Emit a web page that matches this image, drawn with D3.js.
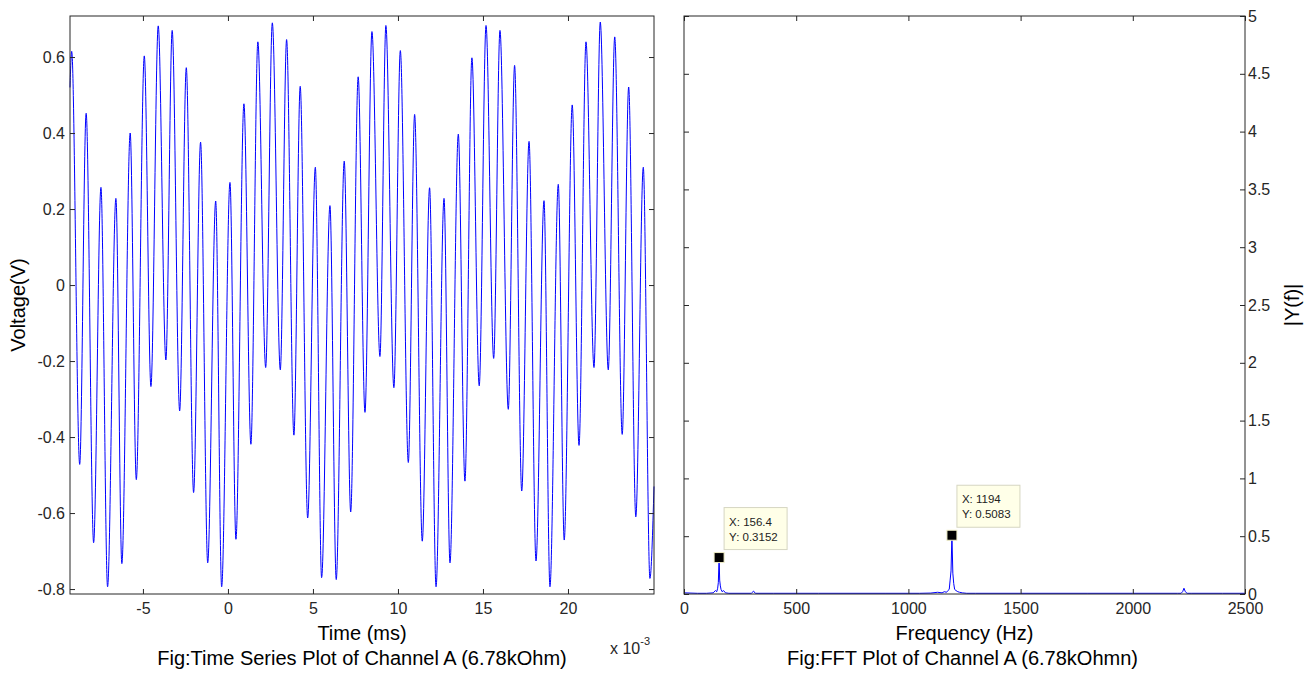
<!DOCTYPE html>
<html>
<head>
<meta charset="utf-8">
<script src="https://cdn.jsdelivr.net/npm/d3@7"></script>
<style>
  body { margin: 0; background: #fff; }
  svg { display: block; font-family: "Liberation Sans", Arial, sans-serif; }
  .axis path, .axis line { stroke: #262626; }
  .axis text { fill: #262626; font-size: 16px; }
</style>
</head>
<body>
<svg id="chart" width="1310" height="673"></svg>
<script>
// time series: local maxima / minima (time in ms x10^-3, volts)
var timePeaks = [-9.19, -8.34, -7.47, -6.59, -5.75, -4.92, -4.10, -3.28, -2.45, -1.61, -0.72, 0.12, 0.94, 1.76, 2.61, 3.45, 4.25, 5.14, 6.00, 6.84, 7.66, 8.47, 9.29, 10.14, 10.98, 11.86, 12.71, 13.55, 14.35, 15.18, 16.00, 16.86, 17.71, 18.59, 19.43, 20.25, 21.06, 21.90, 22.75, 23.57, 24.43];
var voltPeaks = [0.615, 0.452, 0.257, 0.228, 0.400, 0.603, 0.682, 0.670, 0.572, 0.376, 0.221, 0.270, 0.477, 0.640, 0.690, 0.646, 0.523, 0.310, 0.209, 0.326, 0.548, 0.667, 0.683, 0.617, 0.449, 0.256, 0.228, 0.397, 0.598, 0.683, 0.670, 0.578, 0.378, 0.222, 0.265, 0.474, 0.640, 0.692, 0.653, 0.521, 0.310];
var timeTroughs = [-8.72, -7.90, -7.08, -6.24, -5.39, -4.53, -3.65, -2.84, -2.02, -1.19, -0.37, 0.47, 1.35, 2.22, 3.08, 3.88, 4.69, 5.51, 6.37, 7.22, 8.06, 8.94, 9.76, 10.61, 11.43, 12.24, 13.06, 13.94, 14.78, 15.63, 16.49, 17.28, 18.12, 18.94, 19.78, 20.65, 21.53, 22.37, 23.19, 23.99, 24.82];
var voltTroughs = [-0.472, -0.678, -0.794, -0.733, -0.512, -0.267, -0.197, -0.331, -0.546, -0.731, -0.794, -0.669, -0.419, -0.217, -0.223, -0.395, -0.613, -0.770, -0.775, -0.597, -0.335, -0.188, -0.270, -0.467, -0.674, -0.794, -0.731, -0.516, -0.265, -0.193, -0.327, -0.542, -0.726, -0.794, -0.671, -0.422, -0.217, -0.223, -0.393, -0.610, -0.772];
var timeEnds = [-9.29, 25.06];
var voltEnds = [0.52, -0.53];

// spectrum
var fftFreq = [0, 60, 100, 130, 140, 146, 150, 153, 156.4, 159, 162, 165, 170, 176, 185, 200, 300, 310, 318, 400, 600, 900, 1000, 1050, 1100, 1130, 1150, 1160, 1170, 1176, 1182, 1186, 1190, 1194, 1198, 1202, 1206, 1212, 1220, 1228, 1240, 1260, 1300, 1500, 1800, 2000, 2200, 2215, 2222, 2228, 2234, 2242, 2260, 2400, 2500];
var fftMag = [0.01, 0.006, 0.006, 0.01, 0.03, 0.02, 0.05, 0.1, 0.3152, 0.12, 0.07, 0.04, 0.02, 0.03, 0.01, 0.006, 0.006, 0.025, 0.006, 0.006, 0.006, 0.006, 0.006, 0.006, 0.008, 0.015, 0.01, 0.02, 0.015, 0.03, 0.04, 0.12, 0.2, 0.5083, 0.18, 0.09, 0.04, 0.03, 0.02, 0.015, 0.01, 0.006, 0.006, 0.006, 0.006, 0.006, 0.006, 0.006, 0.02, 0.05, 0.02, 0.006, 0.006, 0.006, 0.006];

// data tips
var tipFreq = [156.4, 1194];
var tipMag = [0.3152, 0.5083];

var timeTicks = [-5, 0, 5, 10, 15, 20];
var voltTicks = [-0.8, -0.6, -0.4, -0.2, 0, 0.2, 0.4, 0.6];
var freqTicks = [0, 500, 1000, 1500, 2000, 2500];
var magTicks = [0, 0.5, 1, 1.5, 2, 2.5, 3, 3.5, 4, 4.5, 5];

var svg = d3.select("#chart");

var left = {x0: 70, x1: 654, y0: 16, y1: 594};
var right = {x0: 684, x1: 1245, y0: 16, y1: 594};

var fmt = function(d) { return d === 0 ? "0" : String(+d.toFixed(2)); };

// ---------- left: time series ----------
var xT = d3.scaleLinear().domain([-9.29, 25.06]).range([left.x0, left.x1]);
var yT = d3.scaleLinear().domain([-0.813, 0.708]).range([left.y1, left.y0]);

var pts = [];
timePeaks.forEach(function(t, i) { pts.push([t, voltPeaks[i]]); });
timeTroughs.forEach(function(t, i) { pts.push([t, voltTroughs[i]]); });
timeEnds.forEach(function(t, i) { pts.push([t, voltEnds[i]]); });
pts.sort(function(a, b) { return a[0] - b[0]; });

svg.append("path")
  .datum(pts)
  .attr("fill", "none")
  .attr("stroke", "#0000ff")
  .attr("stroke-width", 1)
  .attr("d", d3.line().x(function(d) { return xT(d[0]); }).y(function(d) { return yT(d[1]); }).curve(d3.curveMonotoneX));

function box(p, xs, ys, xTicks, yTicks, yRight) {
  var g = svg.append("g");
  g.append("g").attr("class", "axis").attr("transform", "translate(0," + p.y1 + ")")
    .call(d3.axisBottom(xs).tickValues(xTicks).tickSize(-5).tickSizeOuter(0).tickPadding(9).tickFormat(fmt));
  g.append("g").attr("class", "axis").attr("transform", "translate(0," + p.y0 + ")")
    .call(d3.axisTop(xs).tickValues(xTicks).tickSize(-5).tickSizeOuter(0).tickFormat(""));
  g.append("g").attr("class", "axis").attr("transform", "translate(" + p.x0 + ",0)")
    .call(d3.axisLeft(ys).tickValues(yTicks).tickSize(-5).tickSizeOuter(0).tickPadding(yRight ? 0 : 5).tickFormat(yRight ? "" : fmt));
  g.append("g").attr("class", "axis").attr("transform", "translate(" + p.x1 + ",0)")
    .call(d3.axisRight(ys).tickValues(yTicks).tickSize(-5).tickSizeOuter(0).tickPadding(3).tickFormat(yRight ? fmt : ""));
  g.selectAll(".domain").remove();
  g.append("rect")
    .attr("x", p.x0).attr("y", p.y0)
    .attr("width", p.x1 - p.x0).attr("height", p.y1 - p.y0)
    .attr("fill", "none").attr("stroke", "#262626");
  return g;
}

box(left, xT, yT, timeTicks, voltTicks, false);

svg.append("text")
  .attr("transform", "translate(25," + ((left.y0 + left.y1) / 2) + ") rotate(-90)")
  .attr("text-anchor", "middle").attr("font-size", 20).text("Voltage(V)");
svg.append("text")
  .attr("x", (left.x0 + left.x1) / 2).attr("y", 640)
  .attr("text-anchor", "middle").attr("font-size", 20).text("Time (ms)");
svg.append("text")
  .attr("x", (left.x0 + left.x1) / 2).attr("y", 665)
  .attr("text-anchor", "middle").attr("font-size", 20).text("Fig:Time Series Plot of Channel A (6.78kOhm)");
var ex = svg.append("text").attr("x", 610).attr("y", 654).attr("font-size", 16).attr("fill", "#262626");
ex.append("tspan").text("x 10");
ex.append("tspan").attr("dy", -9).attr("font-size", 11).text("-3");

// ---------- right: FFT ----------
var xF = d3.scaleLinear().domain([0, 2500]).range([right.x0, right.x1]);
var yF = d3.scaleLinear().domain([0, 5]).range([right.y1, right.y0]);

svg.append("path")
  .datum(fftFreq.map(function(f, i) { return [f, fftMag[i]]; }))
  .attr("fill", "none")
  .attr("stroke", "#0000ff")
  .attr("stroke-width", 1)
  .attr("d", d3.line().x(function(d) { return xF(d[0]); }).y(function(d) { return yF(d[1]); }));

box(right, xF, yF, freqTicks, magTicks, true);

svg.append("text")
  .attr("transform", "translate(1299," + ((right.y0 + right.y1) / 2) + ") rotate(-90)")
  .attr("text-anchor", "middle").attr("font-size", 20).text("|Y(f)|");
svg.append("text")
  .attr("x", (right.x0 + right.x1) / 2).attr("y", 640)
  .attr("text-anchor", "middle").attr("font-size", 20).text("Frequency (Hz)");
svg.append("text")
  .attr("x", (right.x0 + right.x1) / 2 - 2).attr("y", 665)
  .attr("text-anchor", "middle").attr("font-size", 20).text("Fig:FFT Plot of Channel A (6.78kOhmn)");

// data tips
tipFreq.forEach(function(f, i) {
  var mx = xF(f), my = yF(tipMag[i]);
  var g = svg.append("g");
  g.append("rect").attr("x", mx + 5).attr("y", my - 50).attr("width", 63).attr("height", 42)
    .attr("fill", "#ffffe8").attr("stroke", "#d6d6c2");
  g.append("text").attr("x", mx + 10).attr("y", my - 32).attr("font-size", 11.5).attr("fill", "#222")
    .text("X: " + f);
  g.append("text").attr("x", mx + 10).attr("y", my - 17).attr("font-size", 11.5).attr("fill", "#222")
    .text("Y: " + tipMag[i]);
  g.append("rect").attr("x", mx - 5).attr("y", my - 5).attr("width", 10).attr("height", 10)
    .attr("fill", "#000").attr("stroke", "#f2f0c8").attr("stroke-width", 1);
});
</script>
</body>
</html>
